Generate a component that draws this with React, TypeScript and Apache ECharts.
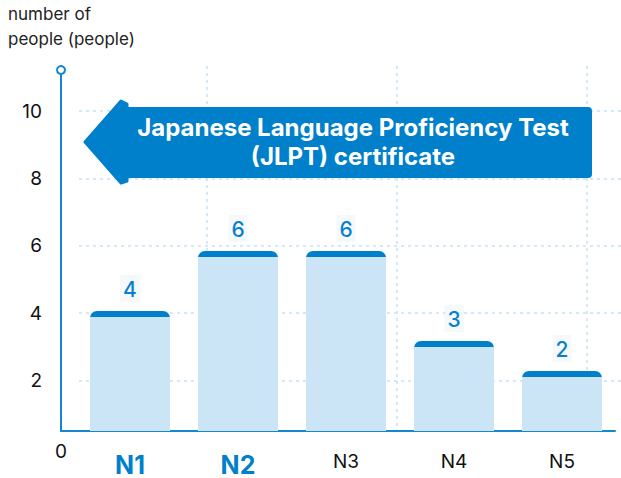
import React, { useEffect, useRef } from 'react';
import * as echarts from 'echarts';

// levels and number of people
const levels = ['N1', 'N2', 'N3', 'N4', 'N5'];
const people = [4, 6, 6, 3, 2];
const highlighted = ['N1', 'N2'];
const yTicks = { min: 0, max: 10, interval: 2 };

const BLUE = '#0080cb';
const LIGHT = '#cce5f6';
const GRID_LINE = '#c8e1f3';
const FONT = 'Inter, "Noto Sans", sans-serif';

// bar grid: 360px tall for 0..12
const BAR_MAX = 12;
const BAR_GRID_H = 360;
const CAP = 6;

const App: React.FC = () => {
  const ref = useRef<HTMLDivElement>(null);

  useEffect(() => {
    document.body.style.margin = '0';
    if (!ref.current) return;
    const chart = echarts.init(ref.current, null, { renderer: 'svg' });

    const barData = people.map((v) => {
      const f = Math.min(1, CAP / ((v / BAR_MAX) * BAR_GRID_H));
      return {
        value: v,
        itemStyle: {
          color: {
            type: 'linear',
            x: 0, y: 0, x2: 0, y2: 1,
            colorStops: [
              { offset: 0, color: BLUE },
              { offset: f, color: BLUE },
              { offset: f, color: LIGHT },
              { offset: 1, color: LIGHT }
            ]
          }
        }
      };
    });

    const dashed = { color: GRID_LINE, width: 1.5, type: [3, 4] as any };

    chart.setOption({
      animation: false,
      textStyle: { fontFamily: FONT },
      title: {
        text: 'number of\npeople (people)',
        left: 8,
        top: 1,
        padding: 0,
        textStyle: { fontSize: 17, fontWeight: 'normal', color: '#222', lineHeight: 25, fontFamily: FONT }
      },
      grid: [
        { left: 76, right: 5, top: 71, bottom: 47 },
        { left: 61, right: 6, top: 70, bottom: 47 },
        { left: 79, right: 0, top: 111, bottom: 30 },
        { left: 17, right: 34, top: 66, bottom: 47 }
      ],
      xAxis: [
        {
          gridIndex: 0,
          type: 'category',
          data: levels,
          axisLine: { show: false },
          axisTick: { show: false },
          axisLabel: {
            margin: 21,
            formatter: (v: string) => (highlighted.includes(v) ? `{hl|${v}}` : `{n|${v}}`),
            rich: {
              hl: { fontSize: 25, fontWeight: 'bold', color: BLUE, fontFamily: FONT },
              n: { fontSize: 19, color: '#111', fontFamily: FONT }
            }
          }
        },
        {
          gridIndex: 1,
          type: 'value',
          min: 0,
          max: 1,
          axisLine: { show: true, lineStyle: { color: '#1587d0', width: 2 } },
          axisTick: { show: false },
          splitLine: { show: false },
          axisLabel: {
            margin: 11,
            fontSize: 19,
            color: '#111',
            showMaxLabel: false,
            formatter: (v: number) => (v === 0 ? '0' : '')
          }
        },
        { gridIndex: 2, type: 'value', show: false },
        {
          gridIndex: 3,
          type: 'value',
          min: 0,
          max: 3,
          interval: 1,
          axisLine: { show: false },
          axisTick: { show: false },
          axisLabel: { show: false },
          splitLine: { show: true, showMinLine: false, lineStyle: dashed }
        }
      ],
      yAxis: [
        { gridIndex: 0, type: 'value', min: 0, max: BAR_MAX, show: false },
        {
          gridIndex: 1,
          type: 'value',
          min: 0,
          max: 1,
          axisLine: {
            show: true,
            symbol: ['none', 'emptyCircle'],
            symbolSize: [8, 8],
            lineStyle: { color: '#1587d0', width: 2 }
          },
          axisTick: { show: false },
          axisLabel: { show: false },
          splitLine: { show: false }
        },
        {
          gridIndex: 2,
          type: 'value',
          min: yTicks.min,
          max: yTicks.max,
          interval: yTicks.interval,
          offset: 18,
          axisLine: { show: false },
          axisTick: { show: false },
          axisLabel: {
            margin: 19,
            fontSize: 19,
            color: '#111',
            formatter: (v: number) => (v === 0 ? '' : String(v))
          },
          splitLine: { show: true, showMinLine: false, lineStyle: dashed }
        },
        { gridIndex: 3, type: 'value', show: false }
      ],
      series: [
        {
          type: 'bar',
          xAxisIndex: 0,
          yAxisIndex: 0,
          data: barData,
          barWidth: 80,
          itemStyle: { borderRadius: [7, 7, 0, 0] },
          label: {
            show: true,
            position: 'top',
            distance: 9,
            fontSize: 21,
            fontWeight: 500,
            color: '#0a7fcc',
            fontFamily: FONT,
            backgroundColor: 'rgba(236,244,250,0.5)',
            padding: [4, 3, 2, 3]
          }
        }
      ],
      graphic: [
        {
          type: 'rect',
          z: 10,
          shape: { x: 124, y: 107, width: 468, height: 71, r: 4 },
          style: { fill: BLUE }
        },
        {
          type: 'polygon',
          z: 10,
          shape: { points: [[85, 142], [121, 101], [127, 104], [127, 181], [121, 183]] },
          style: { fill: BLUE, stroke: BLUE, lineWidth: 3, lineJoin: 'round' }
        },
        {
          type: 'text',
          z: 11,
          x: 353,
          y: 142,
          style: {
            text: 'Japanese Language Proficiency Test\n(JLPT) certificate',
            fill: '#fff',
            font: `bold 24px ${FONT}`,
            lineHeight: 29,
            align: 'center',
            verticalAlign: 'middle'
          }
        }
      ]
    });

    return () => chart.dispose();
  }, []);

  return <div ref={ref} style={{ width: 621, height: 478 }} />;
};

export default App;
